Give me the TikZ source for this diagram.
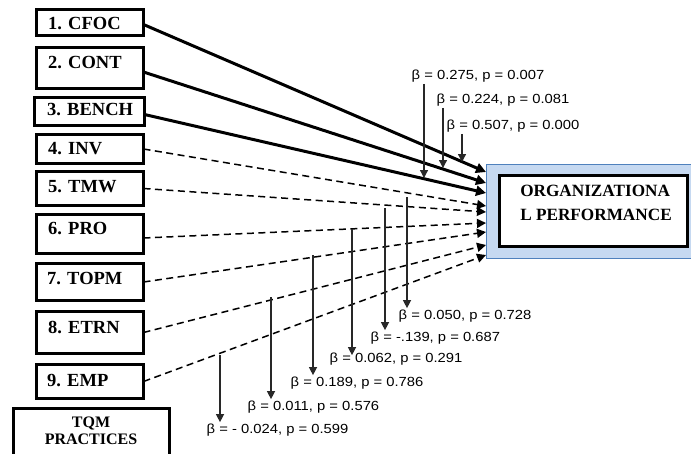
\documentclass[tikz,border=0pt]{standalone}
\usepackage{fontspec}
\usepackage{graphicx}
\setmainfont{Liberation Serif}
\setsansfont{Liberation Sans}
\usetikzlibrary{arrows.meta,calc}
\newcommand\bvtext[1]{\scalebox{1.12}[1]{#1}}
\begin{document}
\begin{tikzpicture}[x=1pt,y=-1pt,
  qbox/.style={draw=black,line width=3pt,fill=white,inner sep=0pt,outer sep=0pt,minimum width=107pt},
  qtxt/.style={anchor=west,inner sep=0pt,font=\bfseries\fontsize{18.5}{20}\selectfont},
  bvalue/.style={anchor=west,inner sep=1.5pt,font=\sffamily\fontsize{13.2}{15}\selectfont},
  sigline/.style={line width=3pt,-{Triangle[length=10pt,width=10pt]}},
  nsline/.style={line width=1.5pt,dash pattern=on 7pt off 4.5pt,-{Triangle[length=9pt,width=9pt]}},
  valarrow/.style={line width=1.3pt,draw={rgb,255:red,40;green,40;blue,40},-{Triangle[length=8pt,width=8pt]}}]
\useasboundingbox (0,0) rectangle (691,453);
\clip (0,0) rectangle (691,453);

% independent variable boxes
\node[qbox,minimum height=26pt] (b1) at (90,22.5) {};
\node[qbox,minimum height=41pt] (b2) at (90,68) {};
\node[qbox,minimum height=28pt,minimum width=110pt] (b3) at (89.5,111.5) {};
\node[qbox,minimum height=29pt] (b4) at (90,149) {};
\node[qbox,minimum height=34pt] (b5) at (90,188.5) {};
\node[qbox,minimum height=39pt] (b6) at (90,234) {};
\node[qbox,minimum height=37pt] (b7) at (90,282) {};
\node[qbox,minimum height=42pt] (b8) at (90,332.5) {};
\node[qbox,minimum height=34pt] (b9) at (90,381.5) {};
\node[qbox,minimum height=50pt,minimum width=156pt] (tqm) at (91.5,433) {};

\node[qtxt] (l1) at (48,24) {1. CFOC};
\node[qtxt] (l2) at (48,63) {2. CONT};
\node[qtxt] (l3) at (47,110) {3. BENCH};
\node[qtxt] (l4) at (48,149) {4. INV};
\node[qtxt] (l5) at (48,187) {5. TMW};
\node[qtxt] (l6) at (48,229) {6. PRO};
\node[qtxt] (l7) at (47,279) {7. TOPM};
\node[qtxt] (l8) at (48,327) {8. ETRN};
\node[qtxt] (l9) at (47,381) {9. EMP};
\node[inner sep=0pt,align=center,font=\bfseries\fontsize{16}{17.5}\selectfont] (ltqm) at (91,431) {TQM\\PRACTICES};

% dependent variable
\node[draw={rgb,255:red,79;green,129;blue,189},fill={rgb,255:red,198;green,217;blue,241},line width=1pt,
      minimum width=214pt,minimum height=94pt,inner sep=0pt,outer sep=0pt] (perf) at (593.5,211.5) {};
\node[draw=black,fill=white,line width=3pt,minimum width=188pt,minimum height=71pt,inner sep=0pt,outer sep=0pt] (perfin) at (593.5,211) {};
\node[inner sep=0pt,align=left,font=\bfseries\fontsize{17.2}{24}\selectfont] (perftxt) at (596,203) {ORGANIZATIONA\\L PERFORMANCE};

% arrow end points on the dependent box
\coordinate (t1) at (486,172);
\coordinate (t2) at (486,183);
\coordinate (t3) at (486,193);
\coordinate (t4) at (486,206);
\coordinate (t5) at (486,212);
\coordinate (t6) at (486,223);
\coordinate (t7) at (486,232);
\coordinate (t8) at (486,245);
\coordinate (t9) at (486,255);

\draw[sigline] ($(b1.east)+(0,2)$) -- (t1);
\draw[sigline] ($(b2.east)+(0,4)$) -- (t2);
\draw[sigline] ($(b3.east)+(0,3)$) -- (t3);
\draw[nsline] (b4.east) -- (t4);
\draw[nsline] (b5.east) -- (t5);
\draw[nsline] ($(b6.east)+(0,4)$) -- (t6);
\draw[nsline] (b7.east) -- (t7);
\draw[nsline] (b8.east) -- (t8);
\draw[nsline] (b9.east) -- (t9);

% coefficient labels
\node[bvalue] (v1) at (410,76) {\bvtext{β = 0.275, p = 0.007}};
\node[bvalue] (v2) at (435,100) {\bvtext{β = 0.224, p = 0.081}};
\node[bvalue] (v3) at (445,126) {\bvtext{β = 0.507, p = 0.000}};
\node[bvalue] (v4) at (397,316) {\bvtext{β = 0.050, p = 0.728}};
\node[bvalue] (v5) at (369,338) {\bvtext{β = -.139, p = 0.687}};
\node[bvalue] (v6) at (328,359) {\bvtext{β = 0.062, p = 0.291}};
\node[bvalue] (v7) at (289,383) {\bvtext{β = 0.189, p = 0.786}};
\node[bvalue] (v8) at (246,407) {\bvtext{β = 0.011, p = 0.576}};
\node[bvalue] (v9) at (205,430) {\bvtext{β = - 0.024, p = 0.599}};

\coordinate (e1) at (424,178);
\coordinate (e2) at (443,168);
\coordinate (e3) at (462,162);
\coordinate (s4) at (407,197);
\coordinate (s5) at (385,208);
\coordinate (s6) at (352,229);
\coordinate (s7) at (313,255);
\coordinate (s8) at (271,297);
\coordinate (s9) at (220,355);

\draw[valarrow] (v1.south -| e1) -- (e1);
\draw[valarrow] (v2.south -| e2) -- (e2);
\draw[valarrow] (v3.south -| e3) -- (e3);
\draw[valarrow] (s4) -- (v4.north -| s4);
\draw[valarrow] (s5) -- (v5.north -| s5);
\draw[valarrow] (s6) -- ($(v6.north -| s6)+(0,4)$);
\draw[valarrow] (s7) -- (v7.north -| s7);
\draw[valarrow] (s8) -- (v8.north -| s8);
\draw[valarrow] (s9) -- (v9.north -| s9);
\end{tikzpicture}
\end{document}
